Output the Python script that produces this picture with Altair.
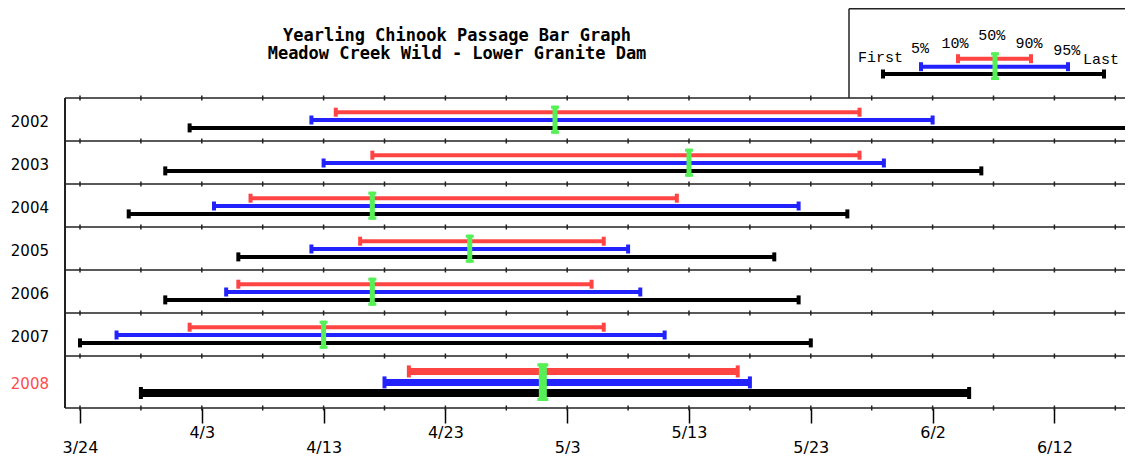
import json
import datetime as dt
import altair as alt
import pandas as pd

# ---------------- data ----------------
years = [2002, 2003, 2004, 2005, 2006, 2007, 2008]
first_dates = ["4/2", "3/31", "3/28", "4/6", "3/31", "3/24", "3/29"]
p5_dates = ["4/12", "4/13", "4/4", "4/12", "4/5", "3/27", "4/18"]
p10_dates = ["4/14", "4/17", "4/7", "4/16", "4/6", "4/2", "4/20"]
p50_dates = ["5/2", "5/13", "4/17", "4/25", "4/17", "4/13", "5/1"]
p90_dates = ["5/27", "5/27", "5/12", "5/6", "5/5", "5/6", "5/17"]
p95_dates = ["6/2", "5/29", "5/22", "5/8", "5/9", "5/11", "5/18"]
last_dates = ["6/18", "6/6", "5/26", "5/20", "5/22", "5/23", "6/5"]
tick_labels = ["3/24", "4/3", "4/13", "4/23", "5/3", "5/13", "5/23", "6/2", "6/12"]
title_lines = ["Yearling Chinook Passage Bar Graph", "Meadow Creek Wild - Lower Granite Dam"]
legend_labels = ["First", "5%", "10%", "50%", "90%", "95%", "Last"]

BASE = dt.date(2008, 3, 24)


def day(s):
    m, d = map(int, s.split("/"))
    return (dt.date(2008, m, d) - BASE).days


tick_days = [day(s) for s in tick_labels]

# ---------------- layout / style ----------------
RED, BLUE, BLACK, GREEN = "#ff4444", "#2222ff", "#000000", "#55f055"
W, H = 1060, 310
X_DOMAIN = [-1.2315, 85.796]


def px2x(px):
    """convert a pixel offset from the plot's left edge into axis units (layout helper)"""
    return X_DOMAIN[0] + px / W * (X_DOMAIN[1] - X_DOMAIN[0])


row_tops = [0, 43, 86, 129, 172, 215, 258]
row_h = [43, 43, 43, 43, 43, 43, 52]
boundaries = row_tops + [H]

normal = dict(red=14.2, blue=22.0, black=29.9, w=(4, 4, 4), cap=9, gc=21.7, gh=28, gw=5, gcap=8)
big = dict(red=15.4, blue=26.4, black=37.0, w=(7, 7, 8), cap=12, gc=26.2, gh=37.6, gw=8, gcap=11)

seg_rows, cap_rows, med_rows, medcap_rows, lab_rows = [], [], [], [], []
for i, yr in enumerate(years):
    L = big if yr == 2008 else normal
    top = row_tops[i]
    series = [
        (RED, p10_dates[i], p90_dates[i], L["red"], L["w"][0]),
        (BLUE, p5_dates[i], p95_dates[i], L["blue"], L["w"][1]),
        (BLACK, first_dates[i], last_dates[i], L["black"], L["w"][2]),
    ]
    for col, s, e, off, w in series:
        yy = top + off
        seg_rows.append(dict(start=day(s), end=day(e), y=yy, w=w, color=col))
        for v in (day(s), day(e)):
            cap_rows.append(dict(x=v, y1=yy - L["cap"] / 2, y2=yy + L["cap"] / 2, color=col))
    gc = top + L["gc"]
    med_rows.append(dict(x=day(p50_dates[i]), y1=gc - L["gh"] / 2, y2=gc + L["gh"] / 2, w=L["gw"]))
    for yy in (gc - L["gh"] / 2 + 1.5, gc + L["gh"] / 2 - 1.5):
        medcap_rows.append(dict(x=day(p50_dates[i]), y=yy, s=L["gcap"]))
    lab_rows.append(dict(label=str(yr), y=top + row_h[i] / 2 + 2,
                         color="#ff4d4d" if yr == 2008 else "#000000"))

seg = pd.DataFrame(seg_rows)
caps = pd.DataFrame(cap_rows)
med = pd.DataFrame(med_rows)
medcaps = pd.DataFrame(medcap_rows)
labs = pd.DataFrame(lab_rows)
lines_df = pd.DataFrame(dict(y=boundaries))
minor = pd.DataFrame([dict(x=d, y1=b - 2.5, y2=b + 2.5)
                      for b in boundaries for d in range(0, 86, 5)])

xscale = alt.Scale(domain=X_DOMAIN, nice=False, zero=False)
yscale = alt.Scale(domain=[0, H], reverse=True, nice=False, zero=False)

vals = json.dumps(tick_days)
labs_js = json.dumps(tick_labels)
label_expr = (f"indexof({vals}, datum.value) % 2 == 0 ? "
              f"['', {labs_js}[indexof({vals}, datum.value)]] : "
              f"{labs_js}[indexof({vals}, datum.value)]")

xaxis = alt.Axis(values=tick_days, labelExpr=label_expr, title=None, grid=False, domain=False,
                 tickSize=15, tickWidth=1.5, tickColor="#000", labelFont="DejaVu Sans",
                 labelFontSize=16, labelColor="#000", labelPadding=1, labelBaseline="top",
                 labelLineHeight=15, labelOverlap=False, labelFlush=False, labelAlign="center")


def X(field):
    return alt.X(field, scale=xscale, axis=xaxis)


def Y(field):
    return alt.Y(field, scale=yscale, axis=None)


row_lines = alt.Chart(lines_df).mark_rule(color="#222", strokeWidth=1.5).encode(
    y=Y("y:Q"), x=alt.value(0), x2=alt.value(W))
minor_ticks = alt.Chart(minor).mark_rule(color="#222", strokeWidth=1.5).encode(
    x=X("x:Q"), y=Y("y1:Q"), y2="y2:Q")
left_border = alt.Chart(lines_df).mark_rule(color="#222", strokeWidth=1.5).encode(
    x=alt.value(0), y=alt.value(0), y2=alt.value(H))

bars = alt.Chart(seg).mark_rule(strokeCap="butt").encode(
    x=X("start:Q"), x2="end:Q", y=Y("y:Q"),
    strokeWidth=alt.StrokeWidth("w:Q", scale=None),
    color=alt.Color("color:N", scale=None))
cap_marks = alt.Chart(caps).mark_rule(strokeWidth=4, strokeCap="butt").encode(
    x=X("x:Q"), y=Y("y1:Q"), y2="y2:Q", color=alt.Color("color:N", scale=None))
median = alt.Chart(med).mark_rule(color=GREEN, strokeCap="butt").encode(
    x=X("x:Q"), y=Y("y1:Q"), y2="y2:Q", strokeWidth=alt.StrokeWidth("w:Q", scale=None))
median_caps = alt.Chart(medcaps).mark_tick(color=GREEN, orient="horizontal", thickness=3, opacity=1).encode(
    x=X("x:Q"), y=Y("y:Q"), size=alt.Size("s:Q", scale=None))
year_labels = alt.Chart(labs).mark_text(align="right", baseline="middle", font="DejaVu Sans",
                                        fontSize=15).encode(
    x=alt.value(-16), y=Y("y:Q"), text="label:N", color=alt.Color("color:N", scale=None))

# ---------------- title (layout in pixels relative to plot area) ----------------
title_df = pd.DataFrame(dict(t=title_lines, px=[px2x(392)] * 2, py=[-57.5, -39.3]))
title = alt.Chart(title_df).mark_text(font="DejaVu Sans Mono", fontWeight="bold", fontSize=17,
                                      align="center", baseline="alphabetic", color="#000").encode(
    x=X("px:Q"), y=Y("py:Q"), text="t:N")

# ---------------- legend (layout in pixels relative to plot area) ----------------
leg_box = pd.DataFrame(dict(x1=[px2x(784), px2x(784)], x2=[px2x(784), X_DOMAIN[1]],
                            y1=[-89.2, -89.2], y2=[0, -89.2]))
legend_box = alt.Chart(leg_box).mark_rule(color="#222", strokeWidth=1.5).encode(
    x=X("x1:Q"), x2="x2:Q", y=Y("y1:Q"), y2="y2:Q")
leg_bars_df = pd.DataFrame(dict(x1=[px2x(v) for v in (893, 856, 818)],
                                x2=[px2x(v) for v in (966, 1003, 1039)],
                                y=[-39.3, -31.3, -24.0], color=[RED, BLUE, BLACK]))
legend_bars = alt.Chart(leg_bars_df).mark_rule(strokeWidth=4, strokeCap="butt").encode(
    x=X("x1:Q"), x2="x2:Q", y=Y("y:Q"), color=alt.Color("color:N", scale=None))
leg_caps_rows = []
for r in leg_bars_df.itertuples():
    for v in (r.x1, r.x2):
        leg_caps_rows.append(dict(x=v, y1=r.y - 4.5, y2=r.y + 4.5, color=r.color))
legend_caps = alt.Chart(pd.DataFrame(leg_caps_rows)).mark_rule(strokeWidth=4, strokeCap="butt").encode(
    x=X("x:Q"), y=Y("y1:Q"), y2="y2:Q", color=alt.Color("color:N", scale=None))
legend_med = alt.Chart(pd.DataFrame(dict(x=[px2x(930)], y1=[-45.7], y2=[-18.0]))).mark_rule(
    color=GREEN, strokeWidth=5, strokeCap="butt").encode(x=X("x:Q"), y=Y("y1:Q"), y2="y2:Q")
legend_medcaps = alt.Chart(pd.DataFrame(dict(x=[px2x(930)] * 2, y=[-44.2, -19.5]))).mark_tick(
    color=GREEN, orient="horizontal", thickness=3, size=8, opacity=1).encode(x=X("x:Q"), y=Y("y:Q"))
leg_txt = pd.DataFrame(dict(t=legend_labels,
                            px=[px2x(v) for v in (838, 855, 890, 926.7, 964, 1001.7, 1018)],
                            py=[-35.7, -44.7, -49.7, -58.0, -50.0, -43.0, -34.0],
                            al=["right", "center", "center", "center", "center", "center", "left"]))
legend_text_layers = []
for al in ["right", "center", "left"]:
    legend_text_layers.append(
        alt.Chart(leg_txt[leg_txt.al == al]).mark_text(font="Liberation Mono", fontSize=15, align=al,
                                                       baseline="alphabetic", color="#000").encode(
            x=X("px:Q"), y=Y("py:Q"), text="t:N"))

chart = alt.layer(
    row_lines, minor_ticks, left_border, bars, cap_marks, median, median_caps, year_labels,
    title, legend_box, legend_bars, legend_caps, legend_med, legend_medcaps, *legend_text_layers
).properties(
    width=W, height=H,
    autosize=alt.AutoSizeParams(type="none"),
    padding={"left": 57, "top": 90, "right": 0, "bottom": 51},
    background="white",
).configure_view(stroke=None)

chart.save("out.html", embed_options={"renderer": "svg", "actions": False})
